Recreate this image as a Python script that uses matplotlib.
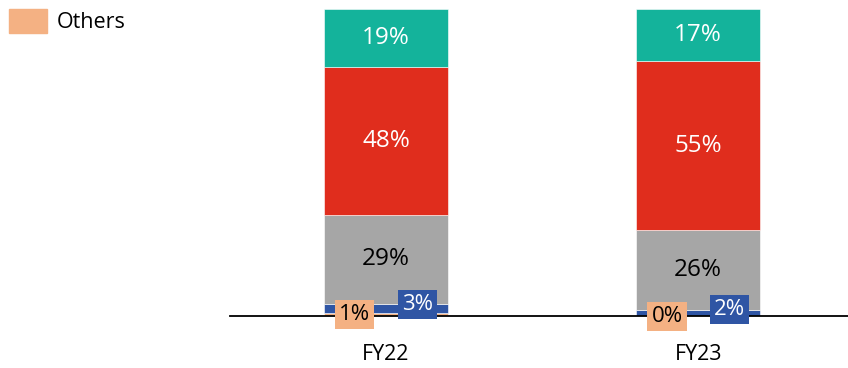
import numpy as np
import matplotlib
matplotlib.use('agg')
import matplotlib.pyplot as plt
from matplotlib.patches import Patch

plt.rcParams['font.family'] = ['Open Sans', 'DejaVu Sans']

years = ['FY22', 'FY23']
# stacked from the bottom up
others = [1, 0]
blue_part = [3, 2]
grey_part = [29, 26]
red_part = [48, 55]
teal_part = [19, 17]

series = [others, blue_part, grey_part, red_part, teal_part]
colors = ['#F4B183', '#2F55A4', '#A6A6A6', '#E02D1D', '#14B39B']
text_colors = ['black', 'white', 'black', 'white', 'white']

fig = plt.figure(figsize=(8.48, 3.68), dpi=100)
ax = fig.add_axes([0.2712, 0.1413, 0.7288, 0.8342])

x = np.arange(len(years))
width = 0.397
bottom = np.zeros(len(years))
for vals, c, tc in zip(series, colors, text_colors):
    vals = np.array(vals, dtype=float)
    ax.bar(x, vals, width, bottom=bottom, color=c, edgecolor='white', linewidth=0.4)
    bottom += vals

# labels for the large segments sit in the middle of each block,
# the two thin ones get boxed labels pushed to either side
bottom = np.zeros(len(years))
for i, (vals, tc) in enumerate(zip(series, text_colors)):
    vals = np.array(vals, dtype=float)
    mids = bottom + vals / 2
    for xi, v, m in zip(x, vals, mids):
        if i == 0:
            ax.text(xi - 0.1, m, f'{v:.0f}%', ha='center', va='center', fontsize=16,
                    color=tc, bbox=dict(boxstyle='square,pad=0.18', fc=colors[i], ec='none'))
        elif i == 1:
            ax.text(xi + 0.1, m + 1.2, f'{v:.0f}%', ha='center', va='center', fontsize=16,
                    color=tc, bbox=dict(boxstyle='square,pad=0.18', fc=colors[i], ec='none'))
        else:
            ax.text(xi, m, f'{v:.0f}%', ha='center', va='center', fontsize=17.5, color=tc)
    bottom += vals

ax.set_xlim(-0.5, 1.48)
ax.set_ylim(0, 100)
for s in ['top', 'right', 'left']:
    ax.spines[s].set_visible(False)
ax.spines['bottom'].set_color('black')
ax.spines['bottom'].set_linewidth(1.3)
ax.set_yticks([])
ax.set_xticks(x)
ax.set_xticklabels(years, fontsize=15.5)
ax.tick_params(axis='x', length=0, pad=20)

fig.legend(handles=[Patch(color=colors[0], label='Others')], loc='upper left',
           bbox_to_anchor=(0.0, 1.0), frameon=False, fontsize=15.5,
           handlelength=1.8, handleheight=1.35, handletextpad=0.45, borderaxespad=0.0)

fig.savefig('out.png', dpi=100)
